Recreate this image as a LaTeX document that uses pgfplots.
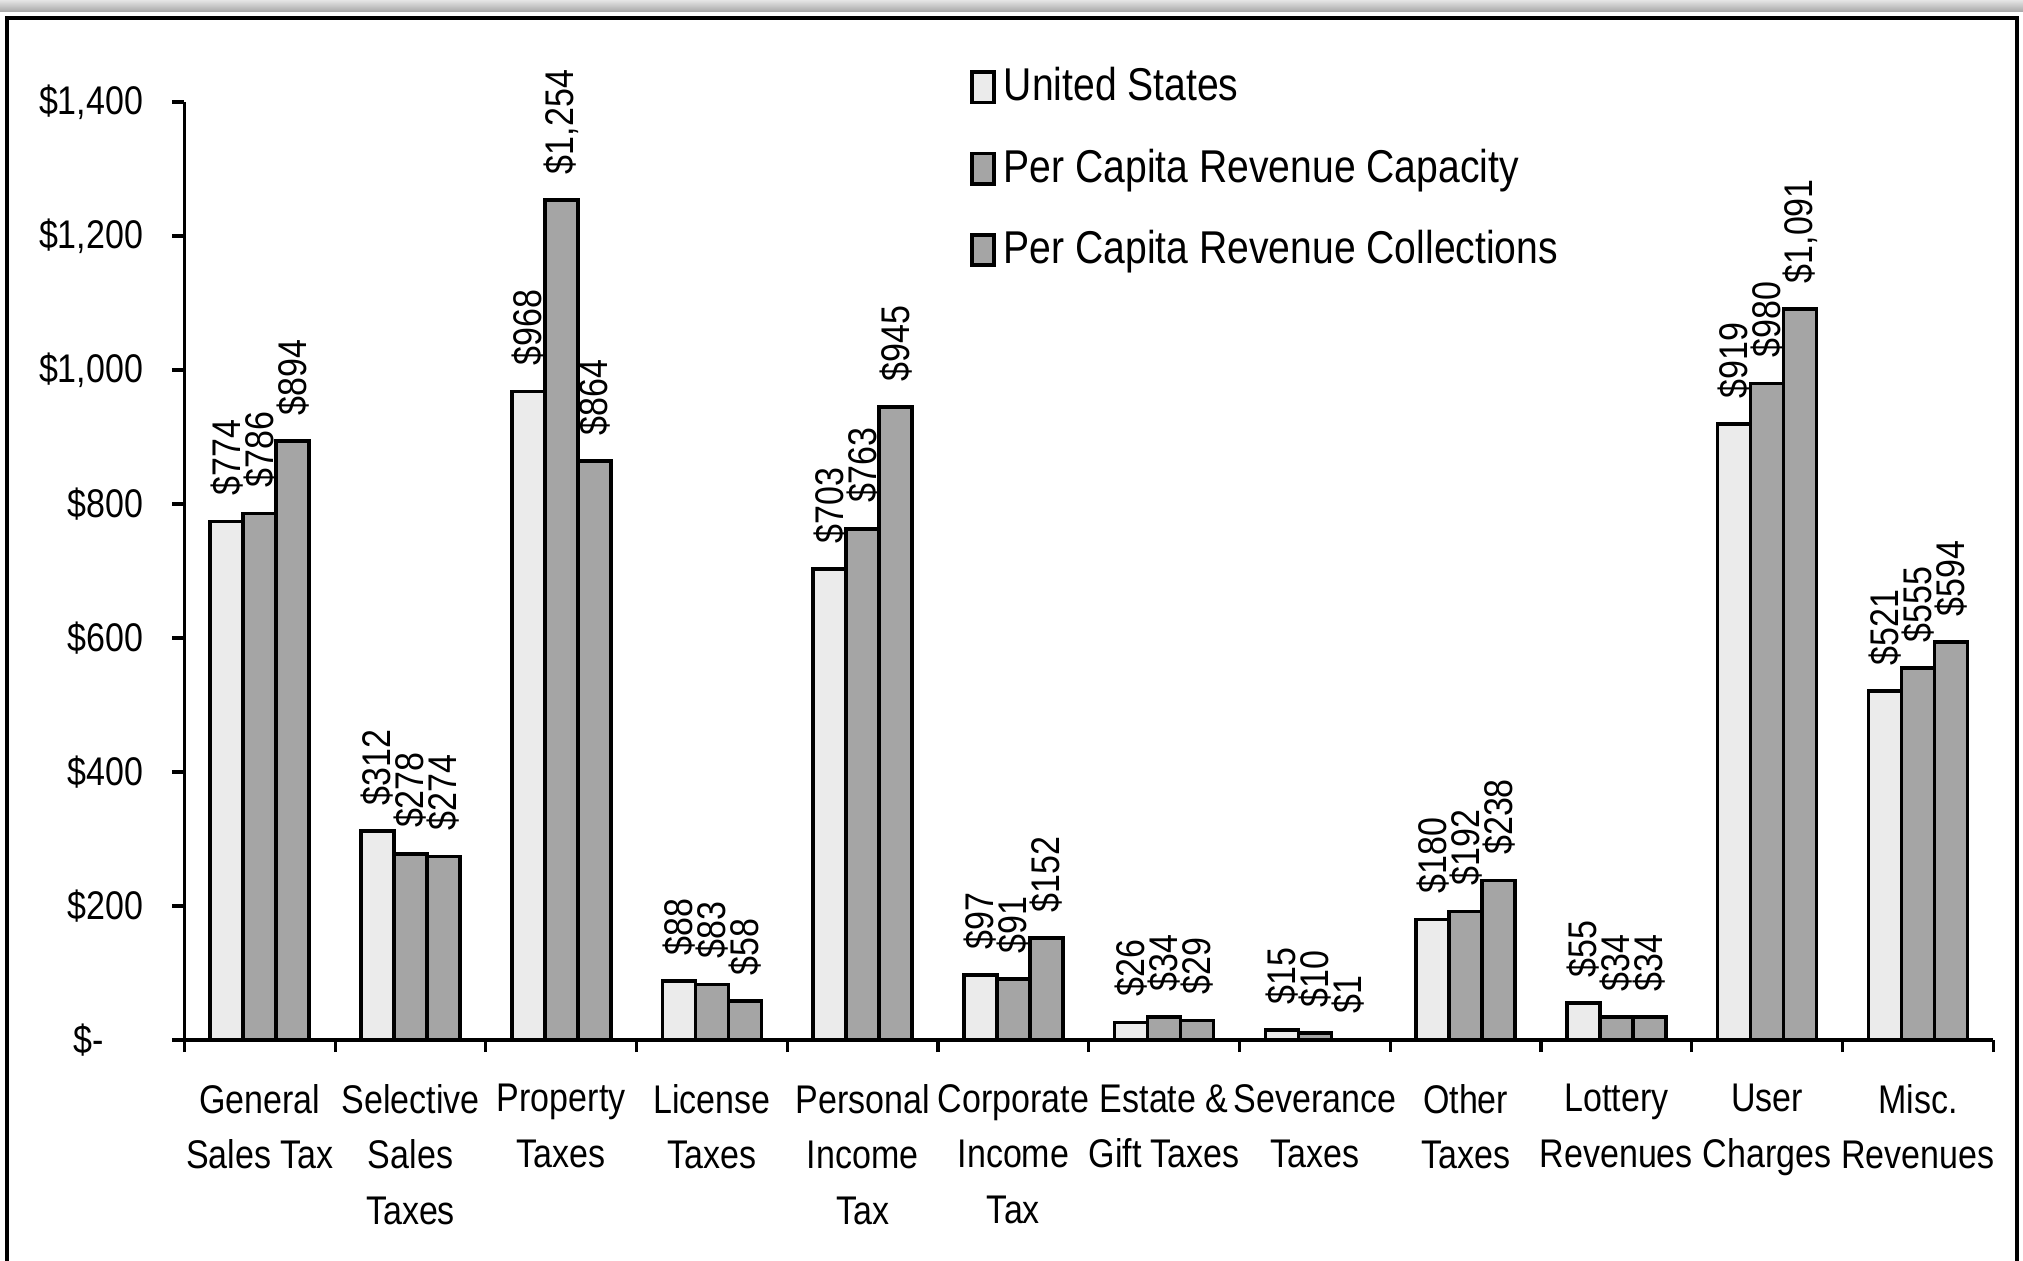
\documentclass[border=0pt]{standalone}
\usepackage{fontspec}
\setmainfont{Liberation Sans}[FakeStretch=0.85]
\usepackage{pgfplots}
\usepackage{pgfplotstable}
\pgfplotsset{compat=1.18}
\definecolor{lightbar}{HTML}{EBEBEB}
\definecolor{darkbar}{HTML}{A5A5A5}

\pgfplotstableread{
x us cap col
0 774 786 894
1 312 278 274
2 968 1254 864
3 88 83 58
4 703 763 945
5 97 91 152
6 26 34 29
7 15 10 1
8 180 192 238
9 55 34 34
10 919 980 1091
11 521 555 594
}\data

\begin{document}
\begin{tikzpicture}
\useasboundingbox (-46.1pt,-55.25pt) rectangle (459.65pt,260pt);
\begin{axis}[
  scale only axis, width=452.2pt, height=234.5pt,
  xmin=-0.5, xmax=11.5, ymin=0, ymax=1400,
  axis x line=bottom, axis y line=left,
  axis line style={line width=0.8pt, -},
  ybar=0pt, bar width=8.25pt,
  ytick={0,200,...,1400},
  yticklabels={{\$-\kern9.75pt},\$200,\$400,\$600,\$800,{\$1,000},{\$1,200},{\$1,400}},
  yticklabel style={anchor=east, xshift=-3.8pt},
  xtick={-0.5,0.5,...,11.5}, xticklabels={},
  extra x ticks={0,1,...,11},
  extra x tick labels={{General\\Sales Tax},{Selective\\Sales\\Taxes},{Property\\Taxes},{License\\Taxes},{Personal\\Income\\Tax},{Corporate\\Income\\Tax},{Estate \&\\Gift Taxes},{Severance\\Taxes},{Other\\Taxes},{Lottery\\Revenues},{User\\Charges},{Misc.\\Revenues}},
  extra x tick style={major tick length=0pt, grid=none},
  xticklabel style={align=center, anchor=north, inner sep=0pt, yshift=-10.9pt, font=\fontsize{10}{13.9}\selectfont},
  ticklabel style={font=\fontsize{10}{13.9}\selectfont},
  tick align=outside, major tick length=3pt,
  tick style={black, line width=0.8pt},
  /pgf/number format/assume math mode=true,
  /pgf/number format/1000 sep={,},
  nodes near coords={\$\pgfmathprintnumber{\pgfplotspointmeta}},
  every node near coord/.append style={rotate=90, anchor=west, inner xsep=6pt, font=\fontsize{10}{12}\selectfont, black},
  legend style={draw=none, fill=none, at={(0.434,1.046)}, anchor=north west, font=\fontsize{11.5}{13}\selectfont, row sep=6.5pt, inner sep=0pt},
  legend cell align=left,
]
\addplot[fill=lightbar, draw=black, line width=0.9pt, legend image code/.code={\draw[fill=lightbar, draw=black, line width=0.9pt] (0pt,-3.8pt) rectangle (5.5pt,3.8pt);}] table[x=x, y=us] {\data};
\addlegendentry{United States}
\addplot[fill=darkbar, draw=black, line width=0.9pt, legend image code/.code={\draw[fill=darkbar, draw=black, line width=0.9pt] (0pt,-3.8pt) rectangle (5.5pt,3.8pt);}] table[x=x, y=cap] {\data};
\addlegendentry{Per Capita Revenue Capacity}
\addplot[fill=darkbar, draw=black, line width=0.9pt, legend image code/.code={\draw[fill=darkbar, draw=black, line width=0.9pt] (0pt,-3.8pt) rectangle (5.5pt,3.8pt);}] table[x=x, y=col] {\data};
\addlegendentry{Per Capita Revenue Collections}
\end{axis}
\shade[top color=gray!20, bottom color=gray!70] (-50pt,260pt) rectangle (465pt,257pt);
\draw[line width=1pt] (-44.4pt,-70pt) -- (-44.4pt,255.5pt) -- (458.1pt,255.5pt) -- (458.1pt,-70pt);
\end{tikzpicture}
\end{document}
